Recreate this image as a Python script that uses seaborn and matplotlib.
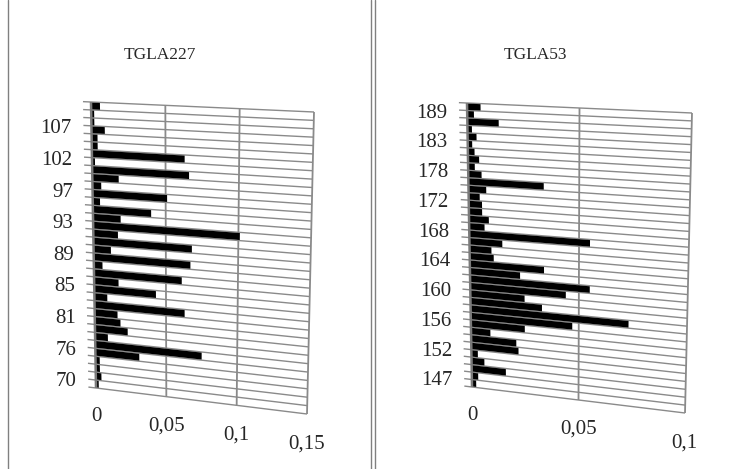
import numpy as np
import pandas as pd
import matplotlib
matplotlib.use("Agg")
import matplotlib.pyplot as plt
import seaborn as sns
from matplotlib.transforms import Transform
from matplotlib.lines import Line2D

# allele frequencies, read bottom (first allele) to top
tgla227_values = [0.002, 0.004, 0.003, 0.003, 0.031, 0.075, 0.009, 0.023, 0.018, 0.016,
                  0.063, 0.009, 0.043, 0.017, 0.061, 0.006, 0.067, 0.012, 0.068, 0.017,
                  0.101, 0.019, 0.040, 0.005, 0.051, 0.006, 0.018, 0.066, 0.002, 0.063,
                  0.004, 0.004, 0.009, 0.002, 0.002, 0.006]
tgla227_ticks = ["70", "76", "81", "85", "89", "93", "97", "102", "107"]
tgla227_xticks = [0, 0.05, 0.1, 0.15]
tgla227_xlabels = ["0", "0,05", "0,1", "0,15"]

tgla53_values = [0.002, 0.003, 0.016, 0.006, 0.003, 0.022, 0.021, 0.009, 0.025, 0.047,
                 0.073, 0.033, 0.025, 0.044, 0.055, 0.023, 0.034, 0.011, 0.010, 0.015,
                 0.055, 0.007, 0.009, 0.006, 0.006, 0.005, 0.008, 0.034, 0.006, 0.003,
                 0.005, 0.003, 0.002, 0.004, 0.002, 0.014, 0.003, 0.006]
tgla53_ticks = ["147", "152", "156", "160", "164", "168", "172", "178", "183", "189"]
tgla53_xticks = [0, 0.05, 0.1]
tgla53_xlabels = ["0", "0,05", "0,1"]

W, H = 734, 469
GRID = "#8a8a8a"


class Warp(Transform):
    # maps axes fraction (u, v) onto a skewed quad given in image pixels
    input_dims = output_dims = 2
    has_inverse = False

    def __init__(self, tl, tr, bl, br):
        super().__init__()
        self.tl, self.tr = np.array([tl[0], H - tl[1]]), np.array([tr[0], H - tr[1]])
        self.bl, self.br = np.array([bl[0], H - bl[1]]), np.array([br[0], H - br[1]])

    def transform_non_affine(self, pts):
        pts = np.asarray(pts, float).reshape(-1, 2)
        u, v = pts[:, 0:1], pts[:, 1:2]
        bottom = self.bl * (1 - u) + self.br * u
        top = self.tl * (1 - u) + self.tr * u
        return bottom * (1 - v) + top * v


def draw_panel(ax, values, ticks, xticks, xlabels, title, corners, title_x):
    n = len(values)
    xmax = xticks[-1]
    df = pd.DataFrame({"pos": np.arange(n), "freq": values})
    sns.barplot(data=df, x="freq", y="pos", orient="h", color="black",
                width=0.85, errorbar=None, saturation=1, ax=ax)
    ax.set_xlim(0, xmax)
    ax.set_ylim(-0.5, n - 0.5)
    ax.set_axis_off()
    T = ax.transScale + ax.transLimits + Warp(*corners)

    for p in ax.patches:
        p.set_edgecolor("none")
        p.set_transform(T)
        p.set_clip_on(False)
        p.set_zorder(3)

    # row lines (with small ticks on the left) and value gridlines
    tick_len = 0.036 * xmax
    ax.hlines(np.arange(n + 1) - 0.5, -tick_len, xmax, colors=GRID, lw=1.0,
              transform=T, clip_on=False, zorder=1)
    ax.vlines(xticks[1:], -0.5, n - 0.5, colors=GRID, lw=1.3,
              transform=T, clip_on=False, zorder=1)
    ax.vlines([0], -0.5, n - 0.5, colors="#7a7a7a", lw=1.8,
              transform=T, clip_on=False, zorder=4)

    for i, lab in enumerate(ticks):
        ax.text(-0.09 * xmax, 4 * i, lab, transform=T, ha="right", va="center",
                fontsize=15, clip_on=False)
    for xv, lab in zip(xticks, xlabels):
        ax.text(xv, -0.5 - 0.1 * n, lab, transform=T, ha="center", va="center",
                fontsize=15, clip_on=False)
    ax.figure.text(title_x / W, 1 - 55 / H, title, ha="center", va="center", fontsize=12.5)


sns.set_theme(style="white")
plt.rcParams["font.family"] = ["Liberation Serif", "DejaVu Serif"]

fig, axes = plt.subplots(1, 2, figsize=(W / 100, H / 100), dpi=100)
draw_panel(axes[0], tgla227_values, tgla227_ticks, tgla227_xticks, tgla227_xlabels,
           "TGLA227", ((91, 102), (314, 112), (96, 388), (307, 414)), 160)
draw_panel(axes[1], tgla53_values, tgla53_ticks, tgla53_xticks, tgla53_xlabels,
           "TGLA53", ((467, 103), (692, 113), (472, 387), (685, 413)), 535)

# chart area borders
for x in [8, 371, 375]:
    fig.add_artist(Line2D([x / W, x / W], [0, 1], transform=fig.transFigure,
                          color="#808080", lw=1.0))

fig.savefig("out.png", dpi=100, facecolor="white")
